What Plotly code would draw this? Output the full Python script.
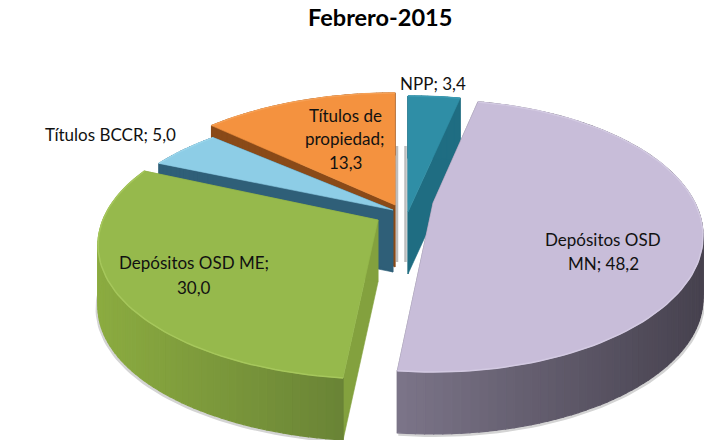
import math
import plotly.graph_objects as go

# ---- data ----
categories = ["Depósitos OSD MN", "Depósitos OSD ME", "Títulos BCCR", "Títulos de propiedad", "NPP"]
values = [48.2, 30.0, 5.0, 13.3, 3.4]
chart_title = "Febrero-2015"

# ---- look ----
START_DEG = 12.24
DEPTH = 62
FONT = "Lato, 'Open Sans', sans-serif"
GEOM = [
    dict(ex=433, ey=236, a=270, b=136, apy=203),
    dict(ex=378, ey=245, a=280, b=134, apy=220),
    dict(ex=393, ey=243, a=291, b=134, apy=210),
    dict(ex=395, ey=233, a=286, b=140, apy=205),
    dict(ex=408, ey=241, a=300, b=145, apy=212),
]
TOP = ["#c8bdd9", "#96b94c", "#8dcde6", "#f4923f", "#2f8ea6"]
RIM = ["#d3cae2", "#a6c75c", "#9ad6ec", "#f6a055", "#3a9ab2"]
WALL_L = ["#7b7488", "#8bab40", "#2f5f78", "#8a4a18", "#1f6d82"]
WALL_R = ["#47424f", "#6a8436", "#2f5f78", "#8a4a18", "#1f6d82"]
SHADOW = "#d4d4d4"
LABEL_LINES = [
    [(603, 239, "Depósitos OSD"), (603, 263, "MN; {v}")],
    [(194, 262, "Depósitos OSD ME;"), (194, 287, "{v}")],
    [(110, 134, "Títulos BCCR; {v}")],
    [(345, 115, "Títulos de"), (345, 138, "propiedad;"), (345, 162, "{v}")],
    [(433, 83, "NPP; {v}")],
]
FONT_SIZE = 17
TITLE_SIZE = 23.5


def mix(c1, c2, t):
    a = [int(c1[i:i + 2], 16) for i in (1, 3, 5)]
    b = [int(c2[i:i + 2], 16) for i in (1, 3, 5)]
    return "#%02x%02x%02x" % tuple(round(p + (q - p) * t) for p, q in zip(a, b))


def projector(g):
    k = (g["ey"] - g["apy"]) / g["b"]
    big_a = g["a"] * math.sqrt(1 - k * k)
    big_b = g["b"] * (1 - k * k)

    def proj(r, deg):
        th = math.radians(deg)
        X, Y = r * math.sin(th), r * math.cos(th)
        s = 1 / (1 + k * Y)
        return g["ex"] + big_a * X * s, g["apy"] - big_b * Y * s
    return proj


def poly(fig, pts, color, lw=0.6):
    fig.add_trace(go.Scatter(
        x=[p[0] for p in pts] + [pts[0][0]],
        y=[p[1] for p in pts] + [pts[0][1]],
        mode="lines", fill="toself", fillcolor=color,
        line=dict(color=color, width=lw), hoverinfo="skip", showlegend=False))


total = sum(values)
angles = [START_DEG]
for v in values:
    angles.append(angles[-1] + v / total * 360)

fig = go.Figure()
# soft vertical shadows beside the central wedges
for sx in (397, 405.5):
    fig.add_trace(go.Scatter(x=[sx, sx], y=[146, 262], mode="lines",
                             line=dict(color="#bdbdbd", width=2.5), hoverinfo="skip", showlegend=False))
for i in reversed(range(len(values))):
    g = GEOM[i]
    proj = projector(g)
    a0, a1 = angles[i], angles[i + 1]
    n = max(4, int((a1 - a0) / 1.5))
    arc = [proj(1, a0 + (a1 - a0) * j / n) for j in range(n + 1)]
    apex = proj(0, a0)
    if i < 2:
        fig.add_trace(go.Scatter(x=[p[0] + (1 if i == 0 else -1) for p in arc],
                                 y=[p[1] + DEPTH + 1.5 for p in arc], mode="lines",
                                 line=dict(color=SHADOW, width=3), hoverinfo="skip", showlegend=False))
    for edge in (arc[0], arc[-1]):
        poly(fig, [apex, edge, (edge[0], edge[1] + DEPTH), (apex[0], apex[1] + DEPTH)],
             mix(WALL_L[i], WALL_R[i], 0.25))
    for j in range(n):
        p, q = arc[j], arc[j + 1]
        t = min(1, max(0, ((p[0] + q[0]) / 2 - (g["ex"] - g["a"])) / (2 * g["a"])))
        if i == 1:
            t = min(1, max(0, ((p[0] + q[0]) / 2 - 100) / 240))
        if i == 0:
            t = min(1, max(0, ((p[0] + q[0]) / 2 - 400) / 300))
        poly(fig, [p, q, (q[0], q[1] + DEPTH), (p[0], p[1] + DEPTH)], mix(WALL_L[i], WALL_R[i], t), lw=1.2)
    poly(fig, [apex] + arc, TOP[i])
    fig.add_trace(go.Scatter(x=[p[0] for p in arc], y=[p[1] for p in arc], mode="lines",
                             line=dict(color=RIM[i], width=1.5), hoverinfo="skip", showlegend=False))

annotations = [dict(x=380, y=17, text="<b>%s</b>" % chart_title, showarrow=False,
                    font=dict(family=FONT, size=TITLE_SIZE, color="#000000"))]
for v, lines in zip(values, LABEL_LINES):
    for x, y, txt in lines:
        annotations.append(dict(x=x, y=y, text=txt.format(v=("%.1f" % v).replace(".", ",")),
                                showarrow=False, font=dict(family=FONT, size=FONT_SIZE, color="#111111")))

fig.update_layout(
    width=704, height=440, margin=dict(l=0, r=0, t=0, b=0),
    paper_bgcolor="white", plot_bgcolor="white", showlegend=False,
    xaxis=dict(range=[0, 704], visible=False, fixedrange=True),
    yaxis=dict(range=[440, 0], visible=False, fixedrange=True),
    annotations=annotations)
fig.write_html("out.html", config={"displayModeBar": False},
               post_script="document.body.style.margin='0';document.documentElement.style.overflow='hidden';")
